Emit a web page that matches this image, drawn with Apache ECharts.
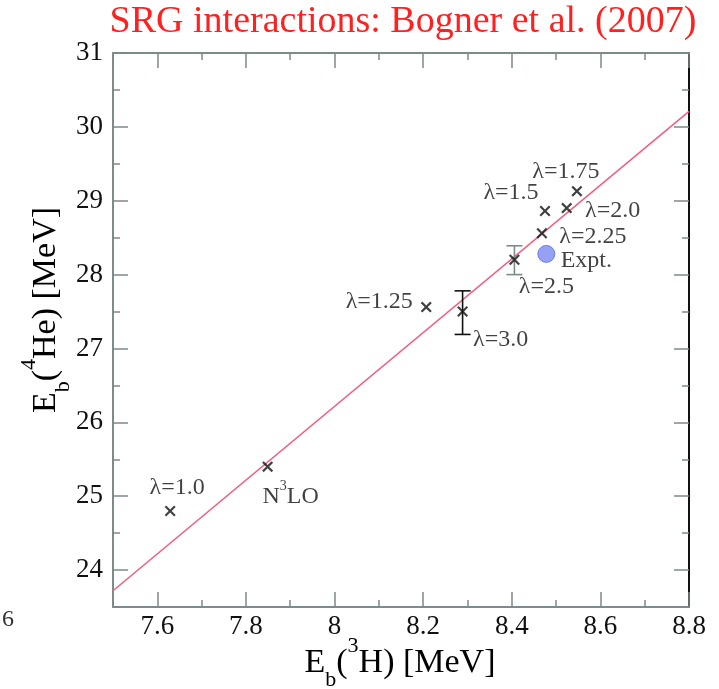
<!DOCTYPE html>
<html><head><meta charset="utf-8">
<script src="https://cdn.jsdelivr.net/npm/echarts@6/dist/echarts.min.js"></script>
<style>html,body{margin:0;padding:0;background:#fff}#c{width:719px;height:689px}</style>
</head><body><div id="c"></div>
<script>
// ---- data ----
const pointNames = ['λ=1.0','N3LO','λ=1.25','λ=3.0','λ=2.5','λ=2.25','λ=1.5','λ=2.0','λ=1.75'];
const pointX = [7.629, 7.849, 8.207, 8.289, 8.406, 8.468, 8.475, 8.524, 8.547];
const pointY = [24.80, 25.40, 27.56, 27.50, 28.20, 28.56, 28.86, 28.90, 29.13];
const errX = [8.289, 8.406];
const errLow = [27.19, 28.00];
const errHigh = [27.78, 28.39];
const exptX = [8.478];
const exptY = [28.28];
const lineX = [7.5, 8.8];
const lineY = [23.72, 30.21];
const xMajorTicks = [7.6, 7.8, 8.0, 8.2, 8.4, 8.6, 8.8];
const xMinorTicks = [7.5, 7.7, 7.9, 8.1, 8.3, 8.5, 8.7];
const yMajorTicks = [24, 25, 26, 27, 28, 29, 30, 31];
const yMinorTicks = [23.5, 24.5, 25.5, 26.5, 27.5, 28.5, 29.5, 30.5];

// ---- layout / style ----
const labelOffsets = [[7,-23],[23,30],[-47,-5],[38,28],[32,27],[51,3],[-34,-18],[46,3],[-11,-19]];
const errColors = ['#111111', '#7d8b8b'];
const SERIF = '"Times New Roman", "Liberation Serif", "DejaVu Serif", serif';
const AX = '#7d8b8b';

const chart = echarts.init(document.getElementById('c'), null, {renderer:'canvas'});

function fmtX(v){ return Math.abs(v-8)<1e-9 ? '8' : v.toFixed(1); }

function xAxisDef(pos, ticks, len, showLine, showLabel){
  return {
    type:'value', position:pos, min:7.5, max:8.8,
    axisLine:{show:showLine, onZero:false, lineStyle:{color:AX, width:2}},
    axisTick:{show:true, inside:true, length:len, customValues:ticks, lineStyle:{color:AX, width:1.5}},
    axisLabel:{show:showLabel, customValues:ticks, margin:6, color:'#111', fontFamily:SERIF, fontSize:27, formatter:fmtX},
    splitLine:{show:false}
  };
}
function yAxisDef(pos, ticks, len, showLine, lineColor, showLabel){
  return {
    type:'value', position:pos, min:23.5, max:31,
    axisLine:{show:showLine, onZero:false, lineStyle:{color:lineColor, width:2}},
    axisTick:{show:true, inside:true, length:len, customValues:ticks, lineStyle:{color:AX, width:1.5}},
    axisLabel:{show:showLabel, customValues:ticks, margin:10, color:'#111', fontFamily:SERIF, fontSize:27},
    splitLine:{show:false}
  };
}

const crossPath = 'path://M0,1.4L1.4,0L5,3.6L8.6,0L10,1.4L6.4,5L10,8.6L8.6,10L5,6.4L1.4,10L0,8.6L3.6,5Z';

const pts = pointX.map((x,i)=>({
  value:[x, pointY[i]], name:pointNames[i],
  label:{show:true, position:'inside', offset:labelOffsets[i]}
}));

const richLabel = {
  n:{fontFamily:SERIF, fontSize:24, color:'#111', lineHeight:34, verticalAlign:'middle'},
  s:{fontFamily:SERIF, fontSize:14, color:'#111', lineHeight:34, verticalAlign:'top'}
};

const axisRich = {
  m:{fontFamily:SERIF, fontSize:34, color:'#111', lineHeight:56},
  sub:{fontFamily:SERIF, fontSize:22, color:'#111', lineHeight:30, verticalAlign:'bottom'},
  sup:{fontFamily:SERIF, fontSize:22, color:'#111', lineHeight:30, verticalAlign:'top'}
};

chart.setOption({
  animation:false,
  backgroundColor:'#fff',
  grid:{left:113, right:30, top:53, bottom:82, outerBoundsMode:'none'},
  xAxis:[
    xAxisDef('bottom', xMajorTicks, 15, true, true),
    xAxisDef('bottom', xMinorTicks, 7, false, false),
    xAxisDef('top', xMajorTicks, 15, true, false),
    xAxisDef('top', xMinorTicks, 7, false, false)
  ],
  yAxis:[
    yAxisDef('left', yMajorTicks, 15, true, AX, true),
    yAxisDef('left', yMinorTicks, 7, false, AX, false),
    yAxisDef('right', yMajorTicks, 15, true, '#111', false),
    yAxisDef('right', yMinorTicks, 7, false, '#111', false)
  ],
  graphic:[
    {type:'text', x:403, y:22, style:{text:'SRG interactions: Bogner et al. (2007)', fill:'#ff2020', fontSize:38, fontFamily:SERIF, align:'center', verticalAlign:'middle'}},
    {type:'text', x:400, y:663, style:{text:'{m|E}{sub|b}{m|(}{sup|3}{m|H) [MeV]}', rich:axisRich, align:'center', verticalAlign:'middle'}},
    {type:'text', x:46, y:310, rotation:Math.PI/2, style:{text:'{m|E}{sub|b}{m|(}{sup|4}{m|He) [MeV]}', rich:axisRich, align:'center', verticalAlign:'middle'}},
    {type:'text', x:8, y:620, style:{text:'6', fill:'#333', fontSize:24, fontFamily:SERIF, align:'center', verticalAlign:'middle'}}
  ],
  series:[
    {type:'line', data:lineX.map((x,i)=>[x,lineY[i]]), showSymbol:false, symbol:'none',
     lineStyle:{color:'#f2607e', width:1.6}, z:1, silent:true},
    {type:'custom', data:errX.map((x,i)=>[x,errLow[i],errHigh[i]]), encode:{x:0,y:[1,2]}, z:2,
     renderItem:function(params, api){
       const x=api.value(0), lo=api.value(1), hi=api.value(2);
       const a=api.coord([x,lo]), b=api.coord([x,hi]);
       const w=8, c=errColors[params.dataIndex];
       const st={stroke:c, lineWidth:1.6};
       return {type:'group', children:[
         {type:'line', shape:{x1:a[0],y1:a[1],x2:b[0],y2:b[1]}, style:st},
         {type:'line', shape:{x1:a[0]-w,y1:a[1],x2:a[0]+w,y2:a[1]}, style:st},
         {type:'line', shape:{x1:b[0]-w,y1:b[1],x2:b[0]+w,y2:b[1]}, style:st}
       ]};
     }},
    {type:'scatter', data:pts, symbol:crossPath, symbolSize:11, z:3,
     itemStyle:{color:'#111'},
     label:{formatter:function(p){ return p.name==='N3LO' ? '{n|N}{s|3}{n|LO}' : '{n|'+p.name+'}'; }, rich:richLabel}},
    {type:'scatter', data:exptX.map((x,i)=>({value:[x,exptY[i]], name:'Expt.'})), symbol:'circle', symbolSize:17, z:3,
     itemStyle:{color:'#7b8af0', borderColor:'#5a6ae6', borderWidth:1},
     label:{show:true, position:'inside', offset:[40,7], formatter:'Expt.', fontFamily:SERIF, fontSize:24, color:'#111'}}
  ]
});
</script></body></html>
